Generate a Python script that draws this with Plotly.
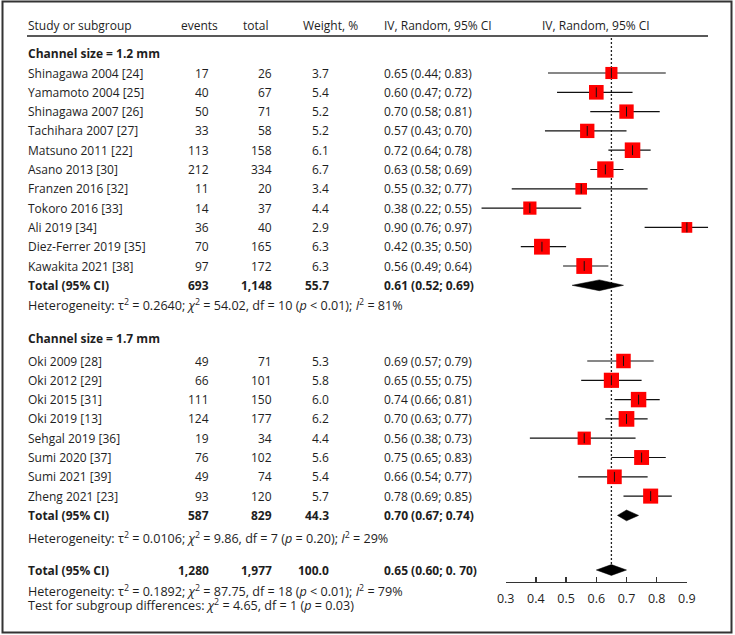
import math
import plotly.graph_objects as go

# ---------------- data ----------------
studies1 = ["Shinagawa 2004 [24]", "Yamamoto 2004 [25]", "Shinagawa 2007 [26]", "Tachihara 2007 [27]",
            "Matsuno 2011 [22]", "Asano 2013 [30]", "Franzen 2016 [32]", "Tokoro 2016 [33]",
            "Ali 2019 [34]", "Diez-Ferrer 2019 [35]", "Kawakita 2021 [38]"]
events1 = [17, 40, 50, 33, 113, 212, 11, 14, 36, 70, 97]
total1 = [26, 67, 71, 58, 158, 334, 20, 37, 40, 165, 172]
weight1 = [3.7, 5.4, 5.2, 5.2, 6.1, 6.7, 3.4, 4.4, 2.9, 6.3, 6.3]
est1 = [0.65, 0.60, 0.70, 0.57, 0.72, 0.63, 0.55, 0.38, 0.90, 0.42, 0.56]
lo1 = [0.44, 0.47, 0.58, 0.43, 0.64, 0.58, 0.32, 0.22, 0.76, 0.35, 0.49]
hi1 = [0.83, 0.72, 0.81, 0.70, 0.78, 0.69, 0.77, 0.55, 0.97, 0.50, 0.64]

studies2 = ["Oki 2009 [28]", "Oki 2012 [29]", "Oki 2015 [31]", "Oki 2019 [13]",
            "Sehgal 2019 [36]", "Sumi 2020 [37]", "Sumi 2021 [39]", "Zheng 2021 [23]"]
events2 = [49, 66, 111, 124, 19, 76, 49, 93]
total2 = [71, 101, 150, 177, 34, 102, 74, 120]
weight2 = [5.3, 5.8, 6.0, 6.2, 4.4, 5.6, 5.4, 5.7]
est2 = [0.69, 0.65, 0.74, 0.70, 0.56, 0.75, 0.66, 0.78]
lo2 = [0.57, 0.55, 0.66, 0.63, 0.38, 0.65, 0.54, 0.69]
hi2 = [0.79, 0.75, 0.81, 0.77, 0.73, 0.83, 0.77, 0.85]

# subgroup 1, subgroup 2, overall
pooled_events = ["693", "587", "1,280"]
pooled_total = ["1,148", "829", "1,977"]
pooled_weight = ["55.7", "44.3", "100.0"]
pooled_est = [0.61, 0.70, 0.65]
pooled_lo = [0.52, 0.67, 0.60]
pooled_hi = [0.69, 0.74, 0.70]
pooled_ci_text = ["0.61 (0.52; 0.69)", "0.70 (0.67; 0.74)", "0.65 (0.60; 0. 70)"]

group_titles = ["Channel size = 1.2 mm", "Channel size = 1.7 mm"]
het_texts = [
    "Heterogeneity: τ<sup>2</sup> = 0.2640; <i>χ</i><sup>2</sup> = 54.02, df = 10 (<i>p</i> &lt; 0.01); <i>I</i><sup>2</sup> = 81%",
    "Heterogeneity: τ<sup>2</sup> = 0.0106; <i>χ</i><sup>2</sup> = 9.86, df = 7 (<i>p</i> = 0.20); <i>I</i><sup>2</sup> = 29%",
    "Heterogeneity: τ<sup>2</sup> = 0.1892; <i>χ</i><sup>2</sup> = 87.75, df = 18 (<i>p</i> &lt; 0.01); <i>I</i><sup>2</sup> = 79%",
]
subgroup_test = "Test for subgroup differences: <i>χ</i><sup>2</sup> = 4.65, df = 1 (<i>p</i> = 0.03)"
headers = ["Study or subgroup", "events", "total", "Weight, %", "IV, Random, 95% CI", "IV, Random, 95% CI"]
tick_vals = [0.3, 0.4, 0.5, 0.6, 0.7, 0.8, 0.9]
tick_text = ["0.3", "0.4", "0.5", "0.6", "0.7", "0.8", "0.9"]

# ---------------- layout geometry ----------------
W, H = 735, 635
FONT = "Open Sans"
FS = 12
FS_NOTE = 12.6
TXT = "#1e1e1e"
ROW0_PX, STEP = 73.0, 19.3          # pixel centre of first study row, row spacing
AX_PX0, AX_PX_PER_UNIT = 505.7, 302.0  # pixel of 0.3 on the effect axis, pixels per unit


def px2val(px):
    return 0.3 + (px - AX_PX0) / AX_PX_PER_UNIT


def py2row(py):
    return (py - ROW0_PX) / STEP


# row indices
r_hdr = py2row(25)
r_ch1 = py2row(53)
rows1 = [float(i) for i in range(len(studies1))]
r_tot1 = len(studies1)
r_het1 = r_tot1 + 1
r_ch2 = py2row(338)
rows2 = [py2row(361) + i for i in range(len(studies2))]
r_tot2 = rows2[-1] + 1.0
r_het2 = py2row(538)
r_totall = py2row(570)
r_hetall = py2row(591)
r_test = py2row(604.5)
pooled_rows = [r_tot1, r_tot2, r_totall]

# column x positions (pixels)
X_STUDY, X_EV, X_TOT, X_W, X_CI = 27, 210, 273, 330, 383
HDR_X = [(27, "left"), (199, "center"), (256, "center"), (330, "center"), (383, "left"), (596, "center")]

fig = go.Figure()
ann = []


def add_text(xpx, row, text, anchor="left", bold=False, size=FS):
    t = f"<b>{text}</b>" if bold else text
    ann.append(dict(x=xpx / W, y=row, xref="paper", yref="y", text=t, showarrow=False,
                    xanchor=anchor, yanchor="middle", borderpad=0,
                    font=dict(family=FONT, size=size, color=TXT)))


for (xp, anc), h in zip(HDR_X, headers):
    add_text(xp, r_hdr, h, anc)

add_text(X_STUDY, r_ch1, group_titles[0], bold=True)
add_text(X_STUDY, r_ch2, group_titles[1], bold=True)

all_rows, all_est, all_lo, all_hi, all_w = [], [], [], [], []
for names, ev, tot, w, e, lo, hi, rows in [
        (studies1, events1, total1, weight1, est1, lo1, hi1, rows1),
        (studies2, events2, total2, weight2, est2, lo2, hi2, rows2)]:
    for i, r in enumerate(rows):
        add_text(X_STUDY, r, names[i])
        add_text(X_EV, r, str(ev[i]), "right")
        add_text(X_TOT, r, str(tot[i]), "right")
        add_text(X_W, r, f"{w[i]:.1f}", "right")
        add_text(X_CI, r, f"{e[i]:.2f} ({lo[i]:.2f}; {hi[i]:.2f})")
        all_rows.append(r); all_est.append(e[i]); all_lo.append(lo[i]); all_hi.append(hi[i]); all_w.append(w[i])

for k, r in enumerate(pooled_rows):
    add_text(X_STUDY, r, "Total (95% CI)", bold=True)
    add_text(X_EV, r, pooled_events[k], "right", bold=True)
    add_text(X_TOT, r, pooled_total[k], "right", bold=True)
    add_text(X_W, r, pooled_weight[k], "right", bold=True)
    add_text(X_CI, r, pooled_ci_text[k], bold=True)

add_text(X_STUDY, r_het1, het_texts[0], size=FS_NOTE)
add_text(X_STUDY, r_het2, het_texts[1], size=FS_NOTE)
add_text(X_STUDY, r_hetall, het_texts[2], size=FS_NOTE)
add_text(X_STUDY, r_test, subgroup_test, size=FS_NOTE)

# dotted reference line at overall estimate
fig.add_trace(go.Scatter(x=[pooled_est[2], pooled_est[2]], y=[py2row(38), r_totall],
                         mode="lines", line=dict(color="#222222", width=1.3, dash="2px,2px"),
                         hoverinfo="skip"))

# CI whiskers
cx, cy = [], []
for r, lo, hi in zip(all_rows, all_lo, all_hi):
    cx += [lo, hi, None]
    cy += [r, r, None]
fig.add_trace(go.Scatter(x=cx, y=cy, mode="lines", line=dict(color="#111111", width=1.2),
                         hoverinfo="skip"))

# weight squares
fig.add_trace(go.Scatter(x=all_est, y=all_rows, mode="markers", opacity=1,
                         marker=dict(symbol="square", color="#ff0000", opacity=1,
                                     size=[6.3 * math.sqrt(w) for w in all_w],
                                     line=dict(width=0)),
                         hoverinfo="skip"))
# point estimate ticks
fig.add_trace(go.Scatter(x=all_est, y=all_rows, mode="markers", opacity=1,
                         marker=dict(symbol="line-ns", size=7, opacity=1,
                                     line=dict(width=1, color="#111111")),
                         hoverinfo="skip"))

# pooled diamonds
DH = 5.4 / STEP
for e, lo, hi, r in zip(pooled_est, pooled_lo, pooled_hi, pooled_rows):
    fig.add_trace(go.Scatter(x=[lo, e, hi, e, lo], y=[r, r - DH, r, r + DH, r],
                             mode="lines", fill="toself", fillcolor="#000000",
                             line=dict(color="#000000", width=0.5), hoverinfo="skip"))

# invisible trace to carry the effect axis
fig.add_trace(go.Scatter(x=[tick_vals[0]], y=[r_test], xaxis="x2", yaxis="y", mode="markers",
                         marker=dict(opacity=0), hoverinfo="skip"))

# header rule and border
shapes = [
    dict(type="line", xref="paper", yref="y", x0=27 / W, x1=708 / W, y0=py2row(36), y1=py2row(36),
         line=dict(color="#222222", width=1.3)),
    dict(type="rect", xref="paper", yref="paper", x0=2.5 / W, x1=731.5 / W, y0=1 - 632.5 / H, y1=1 - 1.5 / H,
         line=dict(color="#333333", width=2), fillcolor="rgba(0,0,0,0)"),
]

DOM_L, DOM_R = 455, 728
fig.update_layout(
    width=W, height=H, margin=dict(l=0, r=0, t=0, b=0, autoexpand=False),
    paper_bgcolor="white", plot_bgcolor="rgba(0,0,0,0)", showlegend=False,
    hovermode=False,
    annotations=ann, shapes=shapes,
    xaxis=dict(domain=[DOM_L / W, DOM_R / W], range=[px2val(DOM_L), px2val(DOM_R)], visible=False),
    xaxis2=dict(domain=[AX_PX0 / W, (AX_PX0 + 0.6 * AX_PX_PER_UNIT) / W], range=[0.3, 0.9],
                anchor="free", position=1 - 582 / H, side="bottom",
                showline=True, linecolor="#333333", linewidth=1.3,
                ticks="inside", ticklen=5, tickwidth=1.3, tickcolor="#333333",
                ticklabelstandoff=5,
                tickvals=tick_vals, ticktext=tick_text, showgrid=False, zeroline=False,
                tickfont=dict(family=FONT, size=12.5, color=TXT)),
    yaxis=dict(domain=[0, 1], range=[py2row(H), py2row(0)], visible=False),
)

fig.write_html("out.html", config={"displayModeBar": False, "staticPlot": True},
               post_script="document.body.style.margin='0';document.body.style.overflow='hidden';")
